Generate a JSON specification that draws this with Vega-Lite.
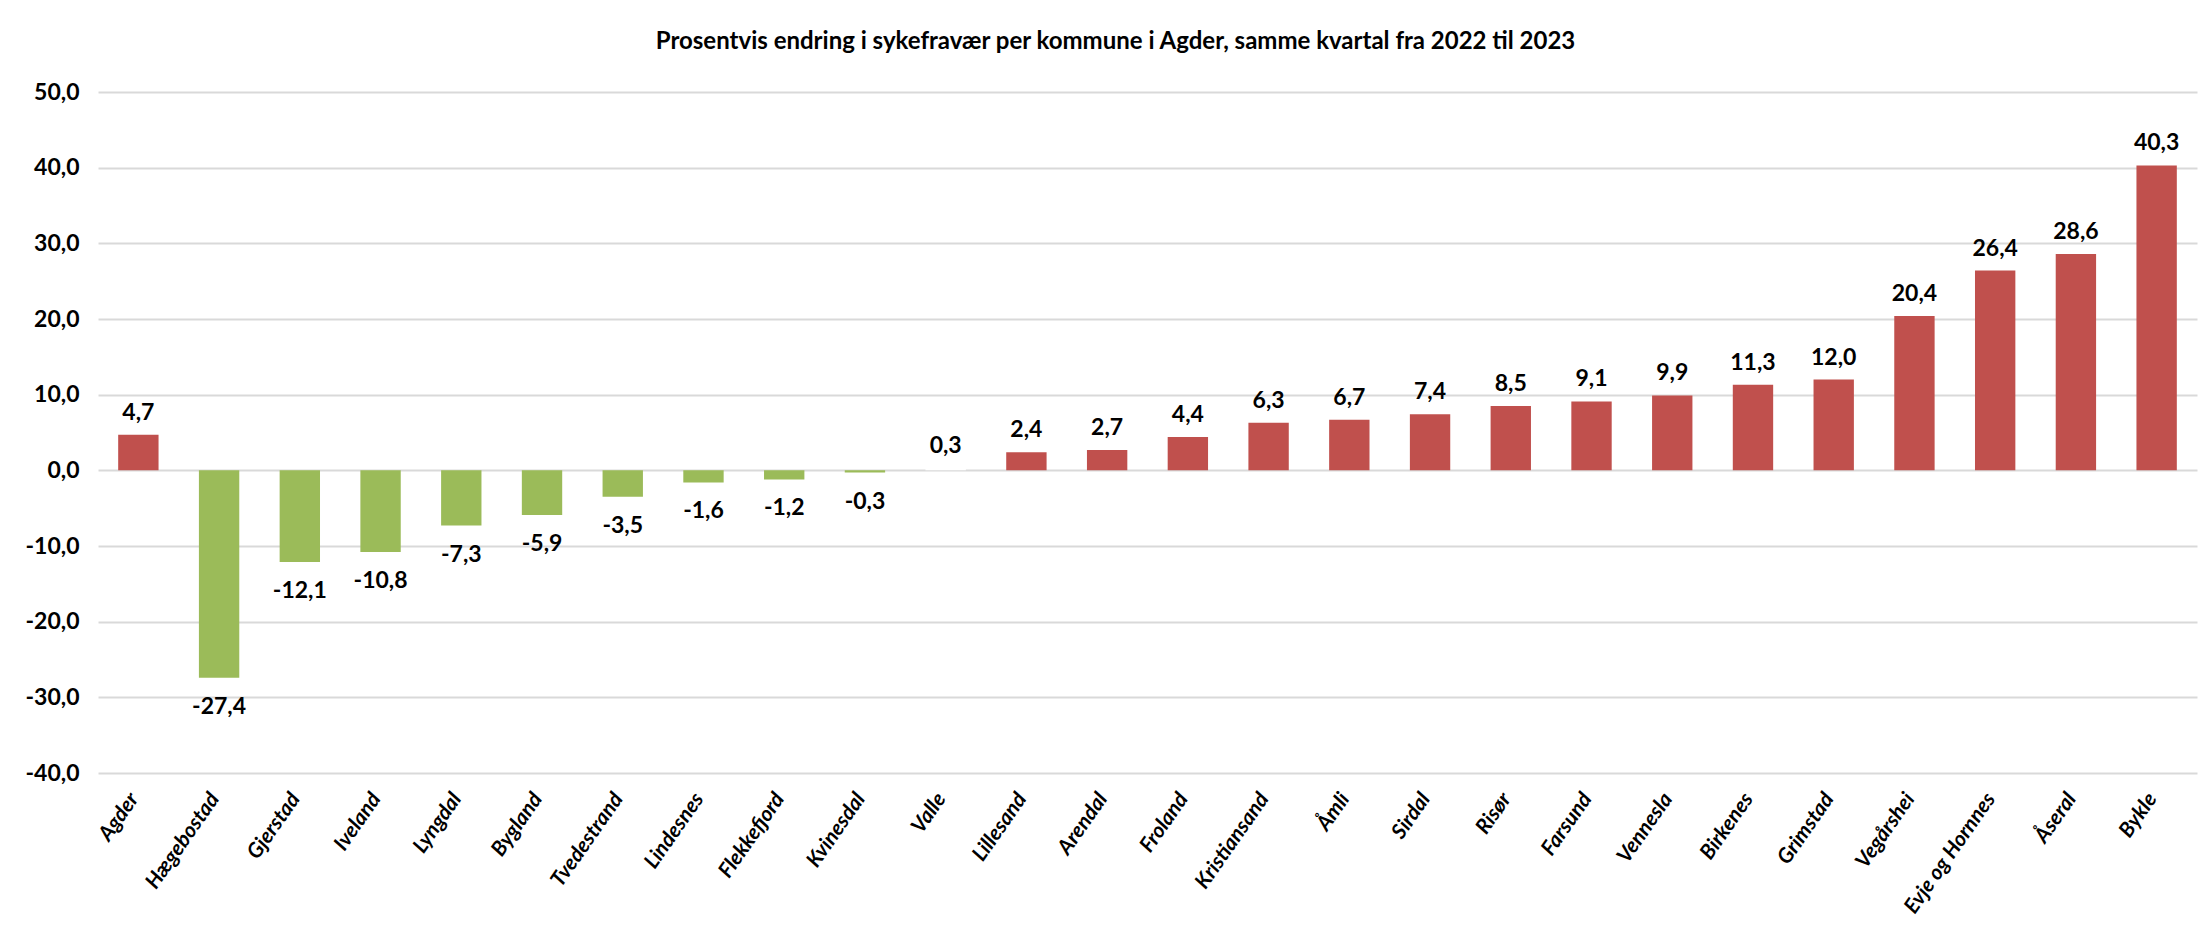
{
  "$schema": "https://vega.github.io/schema/vega-lite/v6.json",
  "width": 2099,
  "height": 681,
  "autosize": {"type": "none"},
  "padding": {"left": 98, "top": 92, "right": 11, "bottom": 156},
  "background": "white",
  "title": {
    "text": "Prosentvis endring i sykefravær per kommune i Agder, samme kvartal  fra 2022 til 2023",
    "fontSize": 24,
    "font": "Lato",
    "fontWeight": "bold",
    "color": "#000000",
    "anchor": "middle",
    "offset": 27,
    "dx": -32
  },
  "config": {
    "locale": {"number": {"decimal": ",", "thousands": " ", "grouping": [3], "currency": ["", ""], "minus": "-"}},
    "view": {"stroke": null},
    "font": "Lato"
  },
  "data": {
    "values": [
      {"kommune": "Agder", "endring": 4.7, "retning": "Økning"},
      {"kommune": "Hægebostad", "endring": -27.4, "retning": "Nedgang"},
      {"kommune": "Gjerstad", "endring": -12.1, "retning": "Nedgang"},
      {"kommune": "Iveland", "endring": -10.8, "retning": "Nedgang"},
      {"kommune": "Lyngdal", "endring": -7.3, "retning": "Nedgang"},
      {"kommune": "Bygland", "endring": -5.9, "retning": "Nedgang"},
      {"kommune": "Tvedestrand", "endring": -3.5, "retning": "Nedgang"},
      {"kommune": "Lindesnes", "endring": -1.6, "retning": "Nedgang"},
      {"kommune": "Flekkefjord", "endring": -1.2, "retning": "Nedgang"},
      {"kommune": "Kvinesdal", "endring": -0.3, "retning": "Nedgang"},
      {"kommune": "Valle", "endring": 0.3, "retning": "Uendret"},
      {"kommune": "Lillesand", "endring": 2.4, "retning": "Økning"},
      {"kommune": "Arendal", "endring": 2.7, "retning": "Økning"},
      {"kommune": "Froland", "endring": 4.4, "retning": "Økning"},
      {"kommune": "Kristiansand", "endring": 6.3, "retning": "Økning"},
      {"kommune": "Åmli", "endring": 6.7, "retning": "Økning"},
      {"kommune": "Sirdal", "endring": 7.4, "retning": "Økning"},
      {"kommune": "Risør", "endring": 8.5, "retning": "Økning"},
      {"kommune": "Farsund", "endring": 9.1, "retning": "Økning"},
      {"kommune": "Vennesla", "endring": 9.9, "retning": "Økning"},
      {"kommune": "Birkenes", "endring": 11.3, "retning": "Økning"},
      {"kommune": "Grimstad", "endring": 12.0, "retning": "Økning"},
      {"kommune": "Vegårshei", "endring": 20.4, "retning": "Økning"},
      {"kommune": "Evje og Hornnes", "endring": 26.4, "retning": "Økning"},
      {"kommune": "Åseral", "endring": 28.6, "retning": "Økning"},
      {"kommune": "Bykle", "endring": 40.3, "retning": "Økning"}
    ]
  },
  "encoding": {
    "x": {
      "field": "kommune",
      "type": "nominal",
      "sort": null,
      "title": null,
      "scale": {"paddingInner": 0.5, "paddingOuter": 0.25},
      "axis": {
        "labelAngle": -55,
        "labelFontSize": 21,
        "labelFontWeight": "bold",
        "labelFontStyle": "italic",
        "labelColor": "#000000",
        "labelPadding": 22,
        "labelOffset": -4,
        "domain": false,
        "ticks": false,
        "grid": false
      }
    },
    "y": {
      "field": "endring",
      "type": "quantitative",
      "title": null,
      "scale": {"domain": [-40, 50], "nice": false},
      "axis": {
        "values": [-40, -30, -20, -10, 0, 10, 20, 30, 40, 50],
        "format": ".1f",
        "labelFontSize": 23,
        "labelFontWeight": "bold",
        "labelColor": "#000000",
        "labelPadding": 19,
        "domain": false,
        "ticks": false,
        "grid": true,
        "gridColor": "#D9D9D9",
        "gridWidth": 2
      }
    }
  },
  "layer": [
    {
      "mark": {"type": "bar"},
      "encoding": {
        "color": {
          "field": "retning",
          "type": "nominal",
          "scale": {"domain": ["Økning", "Nedgang", "Uendret"], "range": ["#C0504D", "#9BBB59", "#FFFFFF"]},
          "legend": null
        }
      }
    },
    {
      "transform": [{"filter": "datum.endring >= 0"}],
      "mark": {"type": "text", "baseline": "alphabetic", "dy": -15, "fontSize": 23, "fontWeight": "bold", "color": "#000000"},
      "encoding": {"text": {"field": "endring", "type": "quantitative", "format": ".1f"}}
    },
    {
      "transform": [{"filter": "datum.endring < 0"}],
      "mark": {"type": "text", "baseline": "alphabetic", "dy": 36, "fontSize": 23, "fontWeight": "bold", "color": "#000000"},
      "encoding": {"text": {"field": "endring", "type": "quantitative", "format": ".1f"}}
    }
  ]
}
